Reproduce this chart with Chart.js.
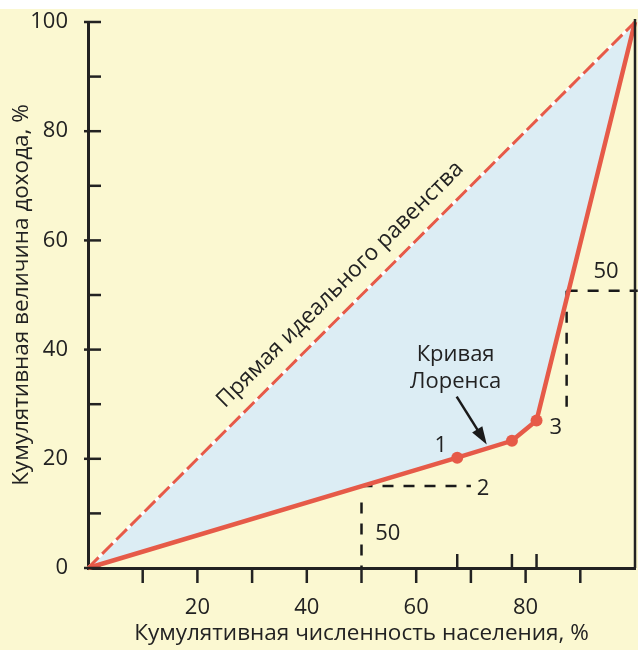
<!DOCTYPE html>
<html>
<head>
<meta charset="utf-8">
<script src="https://cdn.jsdelivr.net/npm/chart.js@4.4.1/dist/chart.umd.min.js"></script>
<style>
  html, body { margin: 0; padding: 0; background: #fbf8d1; }
  #wrap { width: 638px; height: 650px; }
</style>
</head>
<body>
<div id="wrap"><canvas id="lorenzChart" width="638" height="650"></canvas></div>
<script>
// --- data ---
const lorenzX = [0, 67.5, 77.5, 82, 100]
const lorenzY = [0, 20.2, 23.3, 27, 100]
const equalityX = [0, 100]
const equalityY = [0, 100]
// dashed guide to the "50% of population" point and to "50% of income"
const guidePopulation = { x: 50, y: 15 }
const guideIncome = { x: 87.5, y: 50.8 }
const yTickLabels = [0, 20, 40, 60, 80, 100]
const xTickLabels = [20, 40, 60, 80]
const minorStep = 10
const extraXTicks = [67.5, 77.5, 82]

const RED = "#e65a48"
const BLUE = "#dcedf4"
const INK = "#222222"
const FONT = "'Open Sans', 'Noto Sans', sans-serif"

function pts(xs, ys) { return xs.map((x, i) => ({ x: x, y: ys[i] })) }

// labels placed by value, drawn through the scales
const notes = [
  { text: "1", x: 64.5, y: 22.4 },
  { text: "2", x: 72.2, y: 14.5 },
  { text: "3", x: 85.5, y: 25.7 },
  { text: "50", x: 54.8, y: 6.2 },
  { text: "50", x: 94.7, y: 54.3 },
  { text: "Кривая", x: 67.2, y: 39.1 },
  { text: "Лоренса", x: 67.2, y: 34.1 }
]

const decor = {
  id: "decor",
  beforeDraw(chart) {
    const c = chart.ctx
    c.save()
    c.fillStyle = "#fbf8d1"
    c.fillRect(0, 0, chart.width, chart.height)
    c.fillStyle = "#ffffff"
    c.fillRect(0, 0, chart.width, 9)
    c.restore()
  },
  afterDraw(chart) {
    const c = chart.ctx
    const xs = chart.scales.x, ys = chart.scales.y
    const a = chart.chartArea
    c.save()
    c.strokeStyle = INK
    c.lineWidth = 2.5
    // right frame line
    c.beginPath()
    c.moveTo(a.right, ys.getPixelForValue(100) - 3)
    c.lineTo(a.right, a.bottom)
    c.stroke()
    // y ticks
    for (let v = 0; v <= 100; v += minorStep) {
      const py = ys.getPixelForValue(v)
      const major = yTickLabels.includes(v)
      c.beginPath()
      c.moveTo(a.left - (major ? 4 : 0), py)
      c.lineTo(a.left + 13, py)
      c.stroke()
    }
    // x ticks below axis
    for (let v = minorStep; v < 100; v += minorStep) {
      const px = xs.getPixelForValue(v)
      c.beginPath()
      c.moveTo(px, a.bottom)
      c.lineTo(px, a.bottom + 15)
      c.stroke()
    }
    // x ticks above axis at the marked points
    extraXTicks.forEach(v => {
      const px = xs.getPixelForValue(v)
      c.beginPath()
      c.moveTo(px, a.bottom - 14)
      c.lineTo(px, a.bottom)
      c.stroke()
    })

    // arrow to the curve
    const x0 = xs.getPixelForValue(67.4), y0 = ys.getPixelForValue(31.4)
    const x1 = xs.getPixelForValue(72.9), y1 = ys.getPixelForValue(22.6)
    const ang = Math.atan2(y1 - y0, x1 - x0)
    c.strokeStyle = "#1a1a1a"
    c.fillStyle = "#1a1a1a"
    c.lineWidth = 2.5
    c.beginPath()
    c.moveTo(x0, y0)
    c.lineTo(x1 - 12 * Math.cos(ang), y1 - 12 * Math.sin(ang))
    c.stroke()
    c.beginPath()
    c.moveTo(x1, y1)
    c.lineTo(x1 - 18 * Math.cos(ang) + 6 * Math.sin(ang), y1 - 18 * Math.sin(ang) - 6 * Math.cos(ang))
    c.lineTo(x1 - 18 * Math.cos(ang) - 6 * Math.sin(ang), y1 - 18 * Math.sin(ang) + 6 * Math.cos(ang))
    c.closePath()
    c.fill()

    // text notes
    c.fillStyle = INK
    c.font = "22px " + FONT
    c.textAlign = "center"
    c.textBaseline = "middle"
    notes.forEach(n => {
      c.fillText(n.text, xs.getPixelForValue(n.x), ys.getPixelForValue(n.y))
    })

    // text along the equality line
    const tx = xs.getPixelForValue(49), ty = ys.getPixelForValue(49)
    c.translate(tx, ty)
    c.rotate(Math.atan2(ys.getPixelForValue(100) - ys.getPixelForValue(0), xs.getPixelForValue(100) - xs.getPixelForValue(0)))
    c.textBaseline = "alphabetic"
    c.font = "22.5px " + FONT
    c.fillText("Прямая идеального равенства", 0, -16)
    c.restore()
  }
}

const ctx = document.getElementById("lorenzChart").getContext("2d")
const lorenzChart = new Chart(ctx, {
  type: "line",
  data: {
    datasets: [
      {
        label: "Кривая Лоренца",
        data: pts(lorenzX, lorenzY),
        borderColor: RED,
        borderWidth: 4.5,
        backgroundColor: BLUE,
        fill: { target: 1 },
        pointRadius: lorenzX.map((v, i) => (i > 0 && i < lorenzX.length - 1) ? 6 : 0),
        pointBackgroundColor: RED,
        pointBorderWidth: 0,
        tension: 0,
        clip: false,
        order: 0
      },
      {
        label: "underlay",
        data: pts(equalityX, equalityY),
        borderColor: "#ffffff",
        borderWidth: 3,
        pointRadius: 0,
        fill: false,
        clip: false,
        order: 4
      },
      {
        label: "Прямая идеального равенства",
        data: pts(equalityX, equalityY),
        borderColor: RED,
        borderWidth: 3,
        borderDash: [15, 5],
        pointRadius: 0,
        fill: false,
        clip: false,
        order: 3
      },
      {
        label: "g1",
        data: [{ x: guidePopulation.x, y: guidePopulation.y }, { x: 70, y: guidePopulation.y }],
        borderColor: "#1a1a1a", borderWidth: 2.5, borderDash: [11, 10],
        pointRadius: 0, fill: false, clip: false, order: 1
      },
      {
        label: "g2",
        data: [{ x: guidePopulation.x, y: 12 }, { x: guidePopulation.x, y: 0 }],
        borderColor: "#1a1a1a", borderWidth: 2.5, borderDash: [11, 10],
        pointRadius: 0, fill: false, clip: false, order: 1
      },
      {
        label: "g3",
        data: [{ x: guideIncome.x, y: guideIncome.y }, { x: 100.5, y: guideIncome.y }],
        borderColor: "#1a1a1a", borderWidth: 2.5, borderDash: [11, 10],
        pointRadius: 0, fill: false, clip: false, order: 1
      },
      {
        label: "g4",
        data: [{ x: guideIncome.x, y: guideIncome.y }, { x: guideIncome.x, y: 29.5 }],
        borderColor: "#1a1a1a", borderWidth: 2.5, borderDash: [11, 10],
        pointRadius: 0, fill: false, clip: false, order: 1
      }
    ]
  },
  options: {
    responsive: false,
    animation: false,
    layout: { padding: { top: 22, right: 3, left: 0, bottom: 0 } },
    plugins: {
      legend: { display: false },
      tooltip: { enabled: false },
      filler: { drawTime: "beforeDatasetsDraw" }
    },
    scales: {
      x: {
        type: "linear",
        min: 0,
        max: 100,
        grid: { display: false },
        border: { display: true, color: INK, width: 3 },
        ticks: {
          stepSize: 20,
          padding: 19,
          maxRotation: 0,
          color: INK,
          font: { family: FONT, size: 22 },
          callback: v => xTickLabels.includes(v) ? v : ""
        },
        title: {
          display: true,
          text: "Кумулятивная численность населения, %",
          color: INK,
          font: { family: FONT, size: 22.5 },
          padding: { top: 0, bottom: 3 }
        },
        afterFit: s => { s.height = 82; s.paddingLeft = 0; s.paddingRight = 0 }
      },
      y: {
        type: "linear",
        min: 0,
        max: 100,
        grid: { display: false },
        border: { display: true, color: INK, width: 3 },
        ticks: {
          stepSize: 20,
          padding: 12,
          color: INK,
          font: { family: FONT, size: 22 },
          callback: v => yTickLabels.includes(v) ? v : ""
        },
        title: {
          display: true,
          text: "Кумулятивная величина дохода, %",
          color: INK,
          font: { family: FONT, size: 22.5 },
          padding: { top: 8, bottom: 0 }
        },
        afterFit: s => { s.width = 88; s.paddingTop = 0; s.paddingBottom = 0 }
      }
    }
  },
  plugins: [decor]
})
</script>
</body>
</html>
